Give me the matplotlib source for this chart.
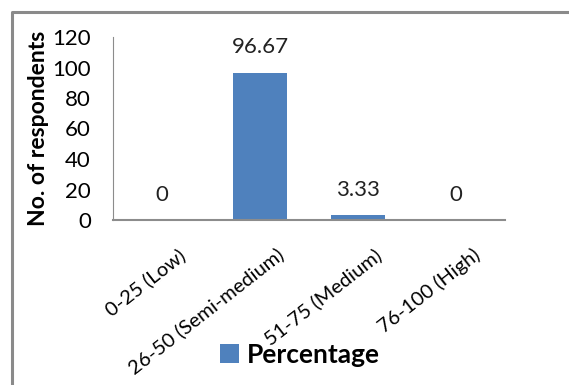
import matplotlib.pyplot as plt
from matplotlib.lines import Line2D
from matplotlib.transforms import ScaledTranslation

# 数据
categories = ['0-25 (Low)', '26-50 (Semi-medium)', '51-75 (Medium)', '76-100 (High)']
percentage = [0, 96.67, 3.33, 0]
value_labels = ['0', '96.67', '3.33', '0']
y_ticks = [0, 20, 40, 60, 80, 100, 120]

plt.rcParams['font.family'] = ['Lato', 'DejaVu Sans']

fig = plt.figure(figsize=(5.69, 3.85), dpi=100)
W, H = 569, 385

# 外框：左边和上边
fx, fy = 12 / W, 1 - 12 / H
fig.add_artist(Line2D([fx, fx, 1.0], [0.0, fy, fy], transform=fig.transFigure,
                      color='#8a8a8a', linewidth=2.2))

ax = fig.add_axes([113 / W, 1 - 220 / H, (505 - 113) / W, (220 - 37) / H])

x = range(len(categories))
bars = ax.bar(x, percentage, width=0.56, color='#4f81bd', label='Percentage')

# 柱上的数值
for i, (v, s) in enumerate(zip(percentage, value_labels)):
    ax.annotate(s, (i, v), xytext=(0, 11), textcoords='offset points',
                ha='center', va='bottom', fontsize=16, color='#222222')

ax.set_xlim(-0.5, len(categories) - 0.5)
ax.set_ylim(0, 120)
ax.set_yticks(y_ticks)
ax.tick_params(axis='y', length=0, labelsize=16, pad=16)
ax.tick_params(axis='x', length=0, labelsize=14.5, pad=4)
ax.set_xticks(list(x))
ax.set_xticklabels(categories, rotation=38, ha='right', rotation_mode='anchor')
shift = ScaledTranslation(16 / 100, -20 / 100, fig.dpi_scale_trans)
for lbl in ax.get_xticklabels():
    lbl.set_transform(lbl.get_transform() + shift)

for side in ['top', 'right']:
    ax.spines[side].set_visible(False)
ax.spines['left'].set_color('#8c8c8c')
ax.spines['bottom'].set_color('#8c8c8c')
ax.spines['bottom'].set_linewidth(1.5)

ax.set_ylabel('No. of respondents', fontsize=16.5, fontweight='bold', labelpad=2)

leg = fig.legend(handles=[bars], labels=['Percentage'], loc='center',
                 bbox_to_anchor=(300 / W, 1 - 355 / H), frameon=False,
                 prop={'size': 19, 'weight': 'bold'}, handlelength=0.75,
                 handleheight=0.75, handletextpad=0.3)

fig.savefig('out.png', dpi=100)
